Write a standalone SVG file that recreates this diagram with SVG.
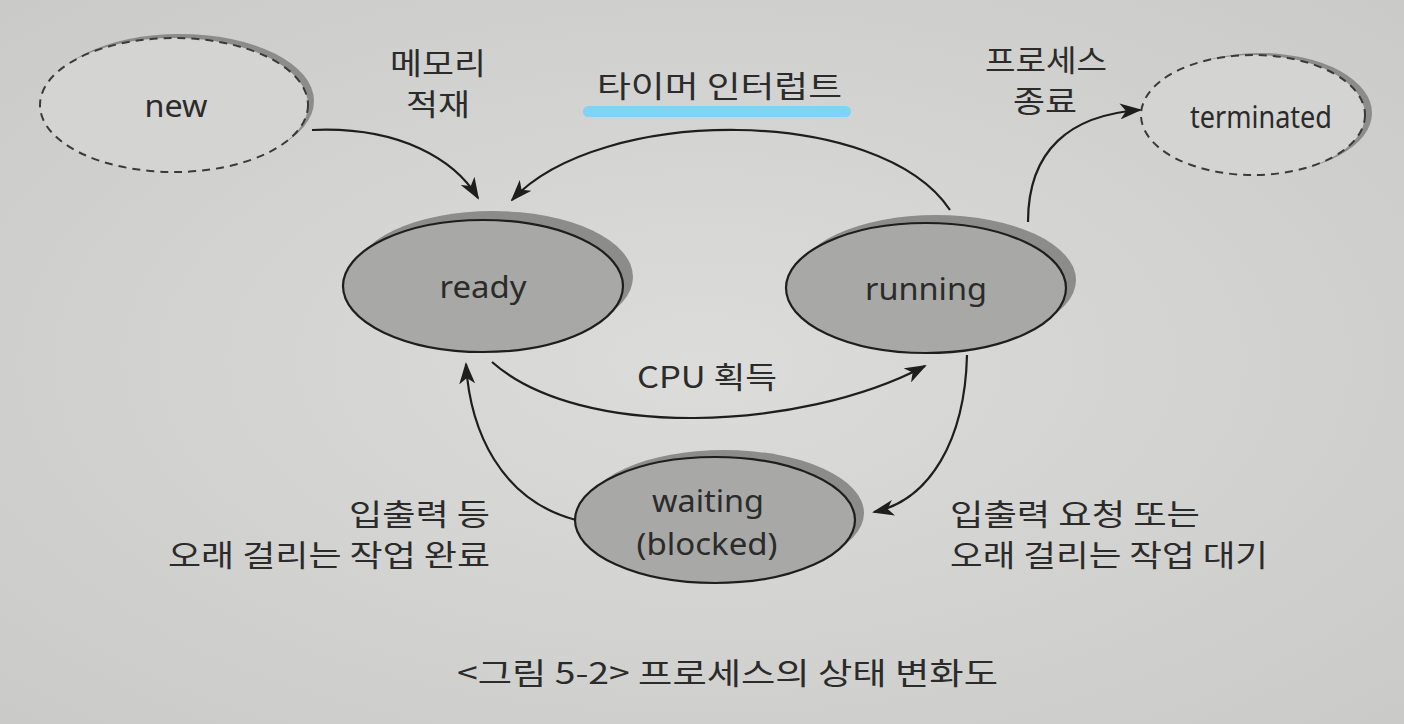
<svg xmlns="http://www.w3.org/2000/svg" width="1404" height="724" viewBox="0 0 1404 724">
<style>
text{font-family:"Noto Sans CJK KR","Noto Sans",sans-serif;fill:#2b2b2b;font-size:30px}
.lat{font-family:"Noto Sans","Noto Sans CJK KR",sans-serif}
.c{text-anchor:middle}
.e{text-anchor:end}
.node{fill:#a8a8a6;stroke:#1e1e1e;stroke-width:2.2}
.shadow{fill:#8c8c8a}
.dash{fill:#d4d4d2;stroke:#3a3a3a;stroke-width:2;stroke-dasharray:8 6}
.conn{fill:none;stroke:#1e1e1e;stroke-width:2.2;marker-end:url(#ah)}
</style>
<defs>
<marker id="ah" viewBox="0 0 22 16" refX="20" refY="8" markerWidth="22" markerHeight="16" markerUnits="userSpaceOnUse" orient="auto">
<path d="M0,0 L22,8 L0,16 L6,8 Z" fill="#1e1e1e"/>
</marker>
<radialGradient id="bg" cx="0.5" cy="0.5" r="0.75">
<stop offset="0" stop-color="#dcdcda"/>
<stop offset="1" stop-color="#c9c9c7"/>
</radialGradient>
</defs>
<rect width="1404" height="724" fill="url(#bg)"/>

<g id="new">
<ellipse class="shadow" cx="180" cy="101" rx="134" ry="67"/>
<ellipse class="dash" cx="174" cy="105" rx="134" ry="67"/>
<text class="c lat" x="176" y="117" textLength="63" lengthAdjust="spacingAndGlyphs" font-size="31">new</text>
</g>

<g id="terminated">
<ellipse class="shadow" cx="1260" cy="113" rx="112" ry="60"/>
<ellipse class="dash" cx="1253" cy="115" rx="112" ry="60"/>
<text class="lat" x="1190" y="128" textLength="142" lengthAdjust="spacingAndGlyphs" font-size="29">terminated</text>
</g>

<g id="ready">
<ellipse class="shadow" cx="493" cy="277" rx="140" ry="66"/>
<ellipse class="node" cx="483" cy="286" rx="140" ry="66"/>
<text class="c lat" x="483" y="298" textLength="87" lengthAdjust="spacingAndGlyphs" font-size="34">ready</text>
</g>

<g id="running">
<ellipse class="shadow" cx="936" cy="280" rx="140" ry="65"/>
<ellipse class="node" cx="926" cy="288" rx="140" ry="65"/>
<text class="c lat" x="926" y="300" textLength="122" lengthAdjust="spacingAndGlyphs" font-size="34">running</text>
</g>

<g id="waiting">
<ellipse class="shadow" cx="724" cy="513" rx="140" ry="63"/>
<ellipse class="node" cx="715" cy="520" rx="140" ry="63"/>
<text class="c lat" x="708" y="512" textLength="112" lengthAdjust="spacingAndGlyphs" font-size="31">waiting</text>
<text class="c lat" x="707" y="555" textLength="141" lengthAdjust="spacingAndGlyphs" font-size="31">(blocked)</text>
</g>

<g id="connectors">
<path class="conn" d="M312,130 C400,126 455,160 478,198"/>
<path class="conn" d="M950,210 C880,105 600,105 512,200"/>
<path class="conn" d="M492,362 C580,440 800,432 925,366"/>
<path class="conn" d="M1028,222 C1028,150 1070,115 1140,110"/>
<path class="conn" d="M967,355 C965,440 930,500 874,512"/>
<path class="conn" d="M576,520 C500,500 470,430 466,364"/>
</g>

<g id="labels">
<text class="c" x="438" y="74" textLength="96" lengthAdjust="spacingAndGlyphs">메모리</text>
<text class="c" x="438" y="115" textLength="64" lengthAdjust="spacingAndGlyphs">적재</text>
<rect x="583" y="106" width="268" height="11" rx="5.5" fill="#7fd4f6"/>
<text x="597" y="97" textLength="245" lengthAdjust="spacingAndGlyphs" font-size="37">타이머 인터럽트</text>
<text class="c" x="1046" y="71" textLength="122" lengthAdjust="spacingAndGlyphs">프로세스</text>
<text class="c" x="1045" y="112" textLength="64" lengthAdjust="spacingAndGlyphs">종료</text>
<text class="c" x="707" y="388" textLength="140" lengthAdjust="spacingAndGlyphs" font-size="34">CPU 획득</text>
<text class="e" x="490" y="525" textLength="141" lengthAdjust="spacingAndGlyphs">입출력 등</text>
<text class="e" x="490" y="566" textLength="322" lengthAdjust="spacingAndGlyphs">오래 걸리는 작업 완료</text>
<text x="950" y="525" textLength="250" lengthAdjust="spacingAndGlyphs">입출력 요청 또는</text>
<text x="950" y="566" textLength="318" lengthAdjust="spacingAndGlyphs">오래 걸리는 작업 대기</text>
<text x="457" y="684" textLength="541" lengthAdjust="spacingAndGlyphs" font-size="36">&lt;그림 5-2&gt; 프로세스의 상태 변화도</text>
</g>
</svg>
